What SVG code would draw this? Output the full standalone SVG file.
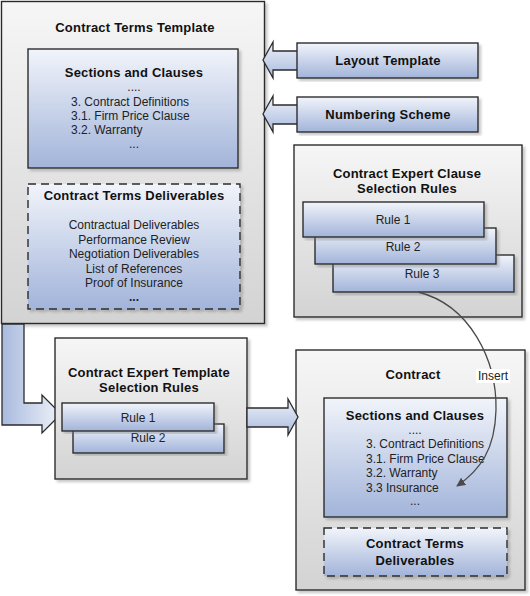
<svg xmlns="http://www.w3.org/2000/svg" width="530" height="596" viewBox="0 0 530 596">
<defs>
<linearGradient id="gGray" x1="0" y1="0" x2="0" y2="1">
<stop offset="0" stop-color="#f6f6f6"/>
<stop offset="1" stop-color="#d3d3d3"/>
</linearGradient>
<linearGradient id="gBlue" x1="0" y1="0" x2="0" y2="1">
<stop offset="0" stop-color="#f1f4fa"/>
<stop offset="1" stop-color="#a2b4da"/>
</linearGradient>
<linearGradient id="gArrow" x1="0" y1="0" x2="0" y2="1">
<stop offset="0" stop-color="#eef2f9"/>
<stop offset="1" stop-color="#a9bade"/>
</linearGradient>
<linearGradient id="gArrowV" x1="1" y1="0" x2="0" y2="0">
<stop offset="0" stop-color="#eef2f9"/>
<stop offset="1" stop-color="#a9bade"/>
</linearGradient>
<filter id="sh" x="-5%" y="-5%" width="115%" height="115%">
<feDropShadow dx="2.5" dy="2.5" stdDeviation="0.8" flood-color="#7a7a7a" flood-opacity="0.4"/>
</filter>
<marker id="ah" viewBox="0 0 10 10" refX="9" refY="5" markerWidth="9" markerHeight="9" markerUnits="userSpaceOnUse" orient="auto">
<path d="M0,0 L10,5 L0,10 Z" fill="#4a4a4a"/>
</marker>
<style>
.gray{fill:url(#gGray);stroke:#2b2b2b;stroke-width:1.4;filter:url(#sh)}
.blue{fill:url(#gBlue);stroke:#2b2b2b;stroke-width:1.4;filter:url(#sh)}
.dash{fill:url(#gBlue);stroke:#2b2b2b;stroke-width:1.4;stroke-dasharray:8,5;filter:url(#sh)}
.arrow{fill:url(#gArrow);stroke:#2b2b2b;stroke-width:1.3;stroke-linejoin:miter}
.arrowv{fill:url(#gArrowV);stroke:#2b2b2b;stroke-width:1.3;stroke-linejoin:miter}
.t{font-family:"Liberation Sans",Arial,sans-serif;font-size:13px;font-weight:bold;fill:#111;text-anchor:middle;letter-spacing:0.2px}
.b{font-family:"Liberation Sans",Arial,sans-serif;font-size:12px;fill:#222}
.c{text-anchor:middle}
</style>
</defs>
<rect width="530" height="596" fill="#ffffff"/>

<g id="contract-terms-template">
<rect class="gray" x="1.5" y="1.5" width="263" height="322"/>
<text class="t" x="135" y="32">Contract Terms Template</text>
<g id="template-sections-clauses">
<rect class="blue" x="28" y="49" width="210" height="119"/>
<text class="t" x="134" y="77">Sections and Clauses</text>
<text class="b c" x="134" y="91">....</text>
<text class="b" x="71" y="106">3. Contract Definitions</text>
<text class="b" x="71" y="120">3.1. Firm Price Clause</text>
<text class="b" x="71" y="134">3.2. Warranty</text>
<text class="b c" x="134" y="148">...</text>
</g>
<g id="template-deliverables">
<rect class="dash" x="28" y="184" width="212" height="125"/>
<text class="t" x="134" y="200">Contract Terms Deliverables</text>
<text class="b c" x="134" y="229">Contractual Deliverables</text>
<text class="b c" x="134" y="244">Performance Review</text>
<text class="b c" x="134" y="258">Negotiation Deliverables</text>
<text class="b c" x="134" y="273">List of References</text>
<text class="b c" x="134" y="287">Proof of Insurance</text>
<text class="b c" x="134" y="301" font-weight="bold">...</text>
</g>
</g>

<g id="connectors">
<polygon class="arrow" points="263,60 273,42 273,51 300,51 300,70 273,70 273,78"/>
<polygon class="arrow" points="263,114 273,96 273,105 300,105 300,124 273,124 273,132"/>
<polygon class="arrowv" points="2,324 24,324 24,403 42,403 42,395 61,414 42,433 42,425 2,425"/>
</g>

<g id="layout-template">
<rect class="blue" x="297" y="43" width="181" height="35"/>
<text class="t" x="388" y="65">Layout Template</text>
</g>

<g id="numbering-scheme">
<rect class="blue" x="297" y="97" width="181" height="35"/>
<text class="t" x="388" y="119">Numbering Scheme</text>
</g>

<g id="clause-selection-rules">
<rect class="gray" x="294" y="145" width="228" height="172"/>
<text class="t" x="407" y="178">Contract Expert Clause</text>
<text class="t" x="407" y="193">Selection Rules</text>
<rect class="blue" x="333" y="255" width="181" height="37"/>
<text class="b c" x="422" y="278">Rule 3</text>
<rect class="blue" x="315" y="228" width="181" height="36"/>
<text class="b c" x="403" y="251">Rule 2</text>
<rect class="blue" x="303" y="202" width="181" height="35"/>
<text class="b c" x="393" y="224">Rule 1</text>
</g>

<g id="template-selection-rules">
<rect class="gray" x="55" y="338" width="192" height="141"/>
<text class="t" x="149" y="377">Contract Expert Template</text>
<text class="t" x="149" y="392">Selection Rules</text>
<rect class="blue" x="73" y="424" width="151" height="29"/>
<text class="b c" x="148" y="442">Rule 2</text>
<rect class="blue" x="62" y="403" width="152" height="28"/>
<text class="b c" x="138" y="422">Rule 1</text>
</g>

<g id="contract">
<rect class="gray" x="296" y="350" width="229" height="240"/>
<text class="t" x="413" y="379">Contract</text>
<g id="contract-sections-clauses">
<rect class="blue" x="324" y="398" width="183" height="119"/>
<text class="t" x="415" y="420">Sections and Clauses</text>
<text class="b c" x="415" y="434">....</text>
<text class="b" x="366" y="448">3. Contract Definitions</text>
<text class="b" x="366" y="463">3.1. Firm Price Clause</text>
<text class="b" x="366" y="477">3.2. Warranty</text>
<text class="b" x="366" y="492">3.3 Insurance</text>
<text class="b c" x="415" y="505">...</text>
</g>
<g id="contract-deliverables">
<rect class="dash" x="324" y="528" width="183" height="48"/>
<text class="t" x="415" y="548">Contract Terms</text>
<text class="t" x="415" y="565">Deliverables</text>
</g>
</g>

<g id="connectors-2">
<polygon class="arrow" points="247,408 288,408 288,399 298,417 288,435 288,427 247,427"/>
<path d="M418,292 C470,305 497,360 496,410 C495,450 480,470 457,486" fill="none" stroke="#4a4a4a" stroke-width="1.3" marker-end="url(#ah)"/>
<rect x="476" y="369" width="34" height="14" fill="#ffffff"/>
<text class="b c" x="493" y="380">Insert</text>
</g>
</svg>
